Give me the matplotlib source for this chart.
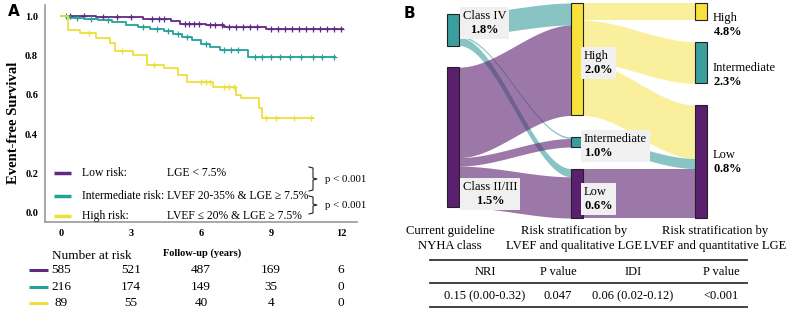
import numpy as np
import matplotlib
matplotlib.use('Agg')
import matplotlib.pyplot as plt
from matplotlib.patches import Rectangle
from matplotlib.transforms import blended_transform_factory

plt.rcParams['font.family'] = ['Liberation Serif', 'DejaVu Serif']
plt.rcParams['mathtext.fontset'] = 'custom'
plt.rcParams['mathtext.rm'] = 'Liberation Serif'
plt.rcParams['mathtext.bf'] = 'Liberation Serif:bold'

# ---- panel A data ----
low_t = [0, 1.5, 3.5, 4.7, 5.1, 6.2, 7.0, 8.8, 12.1]
low_s = [1.0, 0.995, 0.985, 0.975, 0.962, 0.952, 0.942, 0.932, 0.932]
int_t = [0, 0.4, 1.0, 1.6, 2.2, 2.8, 3.3, 3.8, 4.4, 4.8, 5.2, 5.6, 6.0, 6.4, 6.8, 8.0, 11.75]
int_s = [1.0, 0.99, 0.985, 0.98, 0.97, 0.955, 0.945, 0.935, 0.925, 0.91, 0.895, 0.88, 0.86, 0.845, 0.825, 0.79, 0.79]
high_t = [0, 0.3, 0.8, 1.5, 2.1, 2.3, 3.1, 3.7, 4.4, 5.0, 5.4, 6.5, 7.5, 7.7, 8.5, 8.6, 10.8]
high_s = [1.0, 0.93, 0.915, 0.89, 0.865, 0.82, 0.80, 0.75, 0.735, 0.70, 0.665, 0.64, 0.60, 0.585, 0.535, 0.48, 0.48]

low_cens = [0.4, 1.0, 1.8, 2.4, 3.0, 3.9, 4.2, 4.4, 5.3, 5.5, 5.7, 5.9, 6.4, 6.6, 6.9, 7.2, 7.5, 7.8,
            8.1, 8.4, 9.0, 9.3, 9.6, 9.9, 10.2, 10.5, 10.8, 11.1, 11.4, 11.7, 12.0]
int_cens = [0.2, 0.7, 1.3, 2.0, 3.5, 4.1, 4.6, 5.0, 5.4, 6.2, 7.0, 7.3, 7.6, 8.3, 8.6, 9.0, 9.4,
            9.8, 10.3, 10.8, 11.2, 11.7]
high_cens = [1.2, 2.6, 4.0, 6.0, 6.2, 6.4, 7.0, 7.2, 7.4, 8.8, 9.2, 10.0, 10.7]

risk_times = [0, 3, 6, 9, 12]
at_risk = [[585, 521, 487, 169, 6],
           [216, 174, 149, 35, 0],
           [89, 55, 40, 4, 0]]
group_labels = ['Low risk:', 'Intermediate risk:', 'High risk:']
group_defs = ['LGE < 7.5%', 'LVEF 20-35% & LGE \u2265 7.5%', 'LVEF \u2264 20% & LGE \u2265 7.5%']

# ---- panel B data (patients per flow) ----
nyha_nodes = ['Class IV', 'Class II/III']
qual_nodes = ['High', 'Intermediate', 'Low']
quant_nodes = ['High', 'Intermediate', 'Low']
nyha_pct = ['1.8%', '1.5%']
qual_pct = ['2.0%', '1.0%', '0.6%']
quant_pct = ['4.8%', '2.3%', '0.8%']
# (source index, target index, n)
flows_1 = [(0, 0, 114), (0, 1, 8), (0, 2, 43), (1, 0, 468), (1, 1, 44), (1, 2, 213)]
flows_2 = [(0, 0, 89), (0, 1, 216), (0, 2, 277), (1, 2, 52), (2, 2, 256)]

col_titles = ['Current guideline\nNYHA class',
              'Risk stratification by\nLVEF and qualitative LGE',
              'Risk stratification by\nLVEF and quantitative LGE']
tbl_head = ['NRI', 'P value', 'IDI', 'P value']
tbl_row = ['0.15 (0.00-0.32)', '0.047', '0.06 (0.02-0.12)', '<0.001']

c_pur, c_teal, c_yel = '#5e2a84', '#25a19a', '#ece03a'
n_pur, n_teal, n_yel = '#5a1f6e', '#3a9e9e', '#f7e13a'

W, H = 786, 311
fig = plt.figure(figsize=(W / 100, H / 100), dpi=100)

# KM axes placed in pixel layout
L, R, T, B = 45, 357, 5, 222
ax = fig.add_axes([L / W, 1 - B / H, (R - L) / W, (B - T) / H])
for t, s, c, cen in [(low_t, low_s, c_pur, low_cens), (int_t, int_s, c_teal, int_cens),
                     (high_t, high_s, c_yel, high_cens)]:
    ax.step(t, s, where='post', color=c, lw=1.3)
    idx = np.searchsorted(t, cen, side='right') - 1
    ax.plot(cen, np.array(s)[idx], '+', color=c, ms=4, mew=0.9)
ax.set_xlim(-0.686, 12.69)
ax.set_ylim(-0.0457, 1.056)
ax.set_xticks(risk_times)
ax.set_yticks([0, 0.2, 0.4, 0.6, 0.8, 1.0])
ax.set_yticklabels(['0.0', '0.2', '0.4', '0.6', '0.8', '1.0'])
ax.tick_params(length=0, labelsize=7.5, pad=5)
for lb in ax.get_xticklabels() + ax.get_yticklabels():
    lb.set_fontweight('bold')
for sp in ['top', 'right']:
    ax.spines[sp].set_visible(False)
for sp in ['left', 'bottom']:
    ax.spines[sp].set_color('#999999')
    ax.spines[sp].set_linewidth(1.2)

# overlay in pixel coordinates
ov = fig.add_axes([0, 0, 1, 1])
ov.set_xlim(0, W)
ov.set_ylim(H, 0)
ov.axis('off')

ov.text(14, 123, 'Event-free Survival', fontsize=10.5, fontweight='bold', rotation=90,
        ha='center', va='center')
ov.text(8, 11, 'A', family='DejaVu Sans', fontsize=11, fontweight='bold', va='center')
ov.text(404, 13, 'B', family='DejaVu Sans', fontsize=11, fontweight='bold', va='center')

# legend of panel A
leg_y = [173, 196, 216]
cols_km = [c_pur, c_teal, c_yel]
for y, c, g, d in zip(leg_y, cols_km, group_labels, group_defs):
    ov.plot([54, 71], [y, y], color=c, lw=2.5, solid_capstyle='butt')
    if g == 'Intermediate risk:':
        ov.text(82, y, g + ' ' + d, fontsize=8.4, va='center')
    else:
        ov.text(82, y, g, fontsize=8.4, va='center')
        ov.text(167, y, d, fontsize=8.4, va='center')
for y0, y1 in [(167, 191), (196, 214)]:
    m = (y0 + y1) / 2
    ov.plot([309, 313, 313, 317, 313, 313, 309], [y0, y0 + 1, m - 1, m, m + 1, y1 - 1, y1],
            color='#222222', lw=0.8)
    ov.text(325, m, 'p < 0.001', fontsize=7.8, va='center')

# number at risk
tx = blended_transform_factory(ax.transData, ov.transData)
ov.text(52, 256, 'Number at risk', fontsize=9.5, va='center')
ov.text(202, 253, 'Follow-up (years)', fontsize=7.5, fontweight='bold', va='center', ha='center')
for row, y, c in zip(at_risk, [270, 287, 303], cols_km):
    ov.plot([29, 48], [y, y], color=c, lw=2.2, solid_capstyle='butt')
    for t, n in zip(risk_times, row):
        ov.text(t, y, str(n), transform=tx, fontsize=9.5, ha='center', va='center')

# ---- sankey ----
scale = 172 / 890
gap = 21.5
ymid = 110.5
col_x = [447, 571, 695]
nw = 12
node_cols = [[n_teal, n_pur], [n_yel, n_teal, n_pur], [n_yel, n_teal, n_pur]]

def node_sizes(flows, n, side):
    v = np.zeros(n)
    for s, t, k in flows:
        v[s if side == 0 else t] += k
    return v

sizes = [node_sizes(flows_1, 2, 0), node_sizes(flows_1, 3, 1), node_sizes(flows_2, 3, 1)]
tops = []
for v in sizes:
    tot = v.sum() * scale + gap * (len(v) - 1)
    y = ymid - tot / 2
    tp = []
    for k in v:
        tp.append(y)
        y += k * scale + gap
    tops.append(tp)

def draw_flows(flows, ci):
    out_off = list(tops[ci])
    in_off = list(tops[ci + 1])
    x0 = col_x[ci] + nw
    x1 = col_x[ci + 1]
    xs = np.linspace(x0, x1, 80)
    w = (xs - x0) / (x1 - x0)
    w = 3 * w ** 2 - 2 * w ** 3
    for s, t, k in flows:
        h = k * scale
        ys0, yt0 = out_off[s], in_off[t]
        out_off[s] += h
        in_off[t] += h
        top = ys0 + (yt0 - ys0) * w
        bot = top + h
        c = node_cols[ci][s]
        a = 0.5 if c == n_yel else 0.6
        ov.fill_between(xs, top, bot, color=c, alpha=a, lw=0, zorder=1)

draw_flows(flows_1, 0)
draw_flows(flows_2, 1)

for ci in range(3):
    for j, v in enumerate(sizes[ci]):
        ov.add_patch(Rectangle((col_x[ci], tops[ci][j]), nw, v * scale, fc=node_cols[ci][j],
                               ec='#222222', lw=0.8, zorder=3))

box = dict(fc='#f0f0f0', ec='none', pad=2)
label_sets = [(nyha_nodes, nyha_pct, [23, 194], 463, box),
              (qual_nodes, qual_pct, [63, 146, 199], 584, box),
              (quant_nodes, quant_pct, [25, 75, 162], 713, None)]
for names, pcts, ys, x, bb in label_sets:
    for nm, p, y in zip(names, pcts, ys):
        txt = nm + '\n$\\mathbf{' + p.replace('%', '\\%') + '}$'
        ma = 'center' if x == 463 else 'left'
        ov.text(x, y, txt, fontsize=9, va='center', ha='left', multialignment=ma,
                linespacing=1.3, bbox=bb, zorder=4)

for x, t in zip([450, 574, 715], col_titles):
    ov.text(x, 238.5, t, fontsize=9.1, ha='center', va='center', multialignment='center',
            linespacing=1.3)

# table
for y in [260, 283, 307]:
    ov.plot([430, 747], [y, y], color='#333333', lw=1.3)
for x, h, r in zip([485, 558, 633, 721], tbl_head, tbl_row):
    ov.text(x, 272, h, fontsize=9, ha='center', va='center')
    ov.text(x, 296, r, fontsize=9, ha='center', va='center')

fig.savefig('out.png', dpi=100)
